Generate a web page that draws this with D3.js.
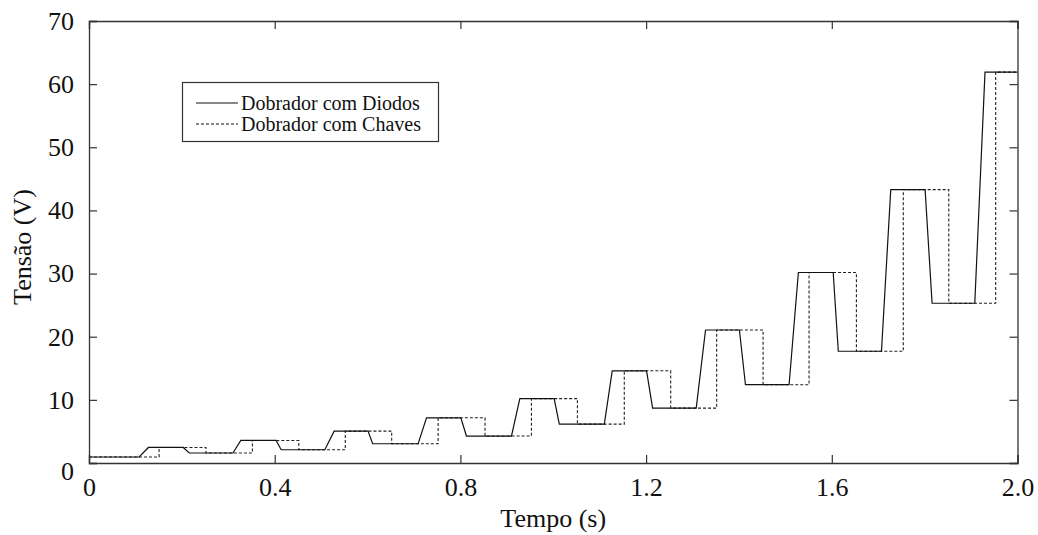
<!DOCTYPE html>
<html>
<head>
<meta charset="utf-8">
<script src="https://cdn.jsdelivr.net/npm/d3@7"></script>
<style>
  html, body { margin: 0; padding: 0; background: #fff; }
  svg { display: block; }
  text { font-family: "Liberation Serif", "Times New Roman", serif; fill: #111; }
</style>
</head>
<body>
<svg id="chart" width="1038" height="535"></svg>
<script>
// Voltage levels (V): value held before each rising edge, and value after it
const lowLevels  = [0.95, 1.58, 2.10, 3.05, 4.27, 6.16, 8.69, 12.4, 17.7, 25.3];
const highLevels = [2.46, 3.57, 5.05, 7.16, 10.2, 14.6, 21.06, 30.17, 43.3, 61.9];

// Diode doubler: sloped transitions (s)
const diodeRiseStart = [0.108, 0.310, 0.508, 0.709, 0.910, 1.110, 1.308, 1.508, 1.707, 1.908];
const diodeRiseEnd   = [0.128, 0.327, 0.528, 0.727, 0.928, 1.127, 1.328, 1.528, 1.727, 1.930];
const diodeFallStart = [0.203, 0.403, 0.601, 0.801, 1.002, 1.201, 1.401, 1.603, 1.801];
const diodeFallEnd   = [0.216, 0.414, 0.611, 0.813, 1.013, 1.214, 1.414, 1.614, 1.816];

// Switch doubler: sharp transitions (s)
const switchOn  = [0.151, 0.352, 0.552, 0.752, 0.953, 1.153, 1.352, 1.551, 1.754, 1.953];
const switchOff = [0.252, 0.452, 0.652, 0.853, 1.052, 1.253, 1.452, 1.653, 1.852];

const xTicks = [0, 0.4, 0.8, 1.2, 1.6, 2.0];
const xTickLabels = ["0", "0.4", "0.8", "1.2", "1.6", "2.0"];
const yTicks = [0, 10, 20, 30, 40, 50, 60, 70];
const yTickLabels = ["0", "10", "20", "30", "40", "50", "60", "70"];
const seriesNames = ["Dobrador com Diodos", "Dobrador com Chaves"];

const tStart = 0, tEnd = 2.0;

// Build the waveform vertices
const diodePts = [[tStart, lowLevels[0]]];
diodeRiseStart.forEach((t, k) => {
  diodePts.push([t, lowLevels[k]]);
  diodePts.push([diodeRiseEnd[k], highLevels[k]]);
  if (k < diodeFallStart.length) {
    diodePts.push([diodeFallStart[k], highLevels[k]]);
    diodePts.push([diodeFallEnd[k], lowLevels[k + 1]]);
  }
});
diodePts.push([tEnd, highLevels[highLevels.length - 1]]);

const switchPts = [[tStart, lowLevels[0]]];
switchOn.forEach((t, k) => {
  switchPts.push([t, lowLevels[k]]);
  switchPts.push([t, highLevels[k]]);
  if (k < switchOff.length) {
    switchPts.push([switchOff[k], highLevels[k]]);
    switchPts.push([switchOff[k], lowLevels[k + 1]]);
  }
});
switchPts.push([tEnd, highLevels[highLevels.length - 1]]);

const svg = d3.select("#chart");
const m = { left: 89, right: 1017.5, top: 21, bottom: 463 };

const x = d3.scaleLinear().domain([0, 2.0]).range([m.left, m.right]);
const y = d3.scaleLinear().domain([0, 70]).range([m.bottom, m.top]);

const line = d3.line().x(d => x(d[0])).y(d => y(d[1]));

// Waveforms
svg.append("path")
  .attr("d", line(switchPts))
  .attr("fill", "none")
  .attr("stroke", "#222")
  .attr("stroke-width", 1.1)
  .attr("stroke-dasharray", "3,2");

svg.append("path")
  .attr("d", line(diodePts))
  .attr("fill", "none")
  .attr("stroke", "#111")
  .attr("stroke-width", 1.2);

// Axes with inward ticks on all four sides
const tickLen = 8;
const fmtX = (d, i) => xTickLabels[i];
const fmtY = (d, i) => yTickLabels[i];

const gBottom = svg.append("g").attr("transform", `translate(0,${m.bottom})`)
  .call(d3.axisBottom(x).tickValues(xTicks).tickSize(-tickLen).tickPadding(15).tickFormat(fmtX));
const gTop = svg.append("g").attr("transform", `translate(0,${m.top})`)
  .call(d3.axisTop(x).tickValues(xTicks).tickSize(-tickLen).tickFormat(""));
const gLeft = svg.append("g").attr("transform", `translate(${m.left},0)`)
  .call(d3.axisLeft(y).tickValues(yTicks).tickSize(-tickLen).tickPadding(15).tickFormat(fmtY));
const gRight = svg.append("g").attr("transform", `translate(${m.right},0)`)
  .call(d3.axisRight(y).tickValues(yTicks).tickSize(-tickLen).tickFormat(""));

[gBottom, gTop, gLeft, gRight].forEach(g => {
  g.select(".domain").attr("stroke", "#333").attr("stroke-width", 1.3);
  g.selectAll(".tick line").attr("stroke", "#333").attr("stroke-width", 1.2);
  g.selectAll(".tick text")
    .style("font-family", "'Liberation Serif', 'Times New Roman', serif")
    .style("font-size", "26px")
    .attr("fill", "#111");
});
// Zero label on the vertical axis sits slightly below the corner
gLeft.selectAll(".tick text").filter(d => d === 0).attr("dy", "0.65em");

// Axis titles
svg.append("text")
  .attr("x", (m.left + m.right) / 2)
  .attr("y", 527)
  .attr("text-anchor", "middle")
  .style("font-size", "26px")
  .text("Tempo (s)");

svg.append("text")
  .attr("transform", `translate(31,247) rotate(-90)`)
  .attr("text-anchor", "middle")
  .style("font-size", "26px")
  .text("Tensão (V)");

// Legend
const legend = svg.append("g");
legend.append("rect")
  .attr("x", 182.5).attr("y", 82.5)
  .attr("width", 256).attr("height", 59)
  .attr("fill", "#fff").attr("stroke", "#333").attr("stroke-width", 1.2);

const legendRows = [
  { name: seriesNames[0], y: 103, dash: null },
  { name: seriesNames[1], y: 124, dash: "3,2" }
];
legendRows.forEach(r => {
  legend.append("line")
    .attr("x1", 196).attr("x2", 238)
    .attr("y1", r.y).attr("y2", r.y)
    .attr("stroke", "#111").attr("stroke-width", 1.1)
    .attr("stroke-dasharray", r.dash);
  legend.append("text")
    .attr("x", 241).attr("y", r.y)
    .attr("dy", "0.35em")
    .style("font-size", "20px")
    .text(r.name);
});
</script>
</body>
</html>
